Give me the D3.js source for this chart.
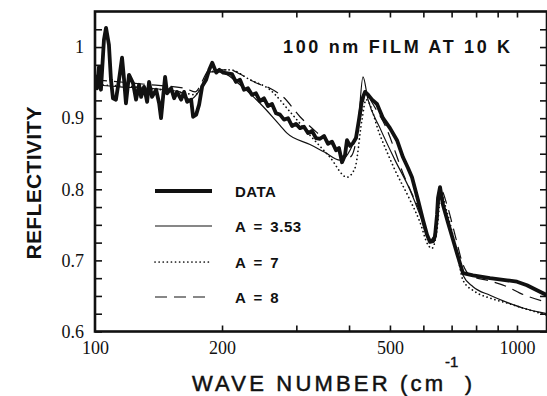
<!DOCTYPE html>
<html>
<head>
<meta charset="utf-8">
<script src="https://d3js.org/d3.v7.min.js"></script>
<style>
    body { margin: 0; background: #fff; }
    svg { display: block; }
    .num text { font-family: "Liberation Serif", "Times New Roman", serif; font-size: 18px; fill: #111; }
    .lbl { font-family: "Liberation Sans", Arial, sans-serif; fill: #111; }
    .curve { fill: none; stroke: #111; stroke-linejoin: round; }
</style>
</head>
<body>
<script>
// wave number (cm-1) / reflectivity pairs
var dataWave = [100,101.1,102.2,103.3,105.0,106.2,107.9,109.1,110.3,112.1,114.0,115.9,117.2,118.4,120.4,123.1,125.1,127.2,128.6,130.7,132.9,134.3,136.5,139.6,141.9,143.4,145.0,146.6,148.2,151.5,154.0,156.5,160.0,162.6,165.3,169.0,170.8,173.7,176.5,179.5,183.4,186.5,189.6,193.8,197.0,201.3,211.2,215.8,220.6,225.5,230.4,235.5,240.7,246.0,251.5,257.0,262.7,268.5,274.4,280.5,286.7,293.0,299.4,306.1,312.8,319.7,326.8,334.0,341.3,348.9,356.6,364.4,372.5,378.6,384.9,391.2,395.5,402.1,408.7,415.4,422.3,429.3,436.4,443.6,453.4,465.9,481.4,500.1,519.6,536.9,551.8,563.9,582.7,598.8,612.1,622.2,632.4,639.4,646.4,649.9,657.1,667.9,686.4,705.4,724.9,744.9,786.7,863.0,946.9,1000,1056,1115,1178];
var dataRefl = [0.961,0.942,0.972,0.940,1.010,1.027,1.003,0.954,0.928,0.926,0.954,0.985,0.954,0.921,0.961,0.949,0.926,0.947,0.930,0.944,0.923,0.951,0.930,0.940,0.921,0.900,0.930,0.958,0.935,0.942,0.928,0.937,0.926,0.937,0.923,0.926,0.902,0.905,0.919,0.945,0.954,0.968,0.978,0.964,0.968,0.964,0.962,0.951,0.954,0.940,0.942,0.933,0.935,0.924,0.928,0.917,0.920,0.907,0.905,0.898,0.900,0.889,0.892,0.886,0.888,0.879,0.882,0.872,0.871,0.875,0.864,0.867,0.855,0.858,0.838,0.848,0.869,0.861,0.865,0.872,0.898,0.926,0.937,0.933,0.926,0.920,0.900,0.886,0.869,0.845,0.830,0.817,0.785,0.757,0.736,0.726,0.727,0.734,0.764,0.788,0.803,0.778,0.753,0.729,0.705,0.682,0.679,0.675,0.672,0.670,0.665,0.658,0.651];

var a353Wave = [100,114.6,135.0,159.1,168.0,177.4,187.3,197.8,220.6,246.0,274.4,285.1,323.2,350.5,380.7,402.1,420.0,431.6,443.6,473.6,514.0,557.8,588.9,615.1,629.0,642.9,657.1,675.2,713.1,744.9,786.7,863.0,946.9,1033,1178];
var a353Refl = [0.947,0.944,0.942,0.937,0.926,0.940,0.965,0.965,0.947,0.921,0.890,0.879,0.863,0.852,0.841,0.855,0.890,0.958,0.926,0.886,0.841,0.799,0.764,0.732,0.729,0.750,0.799,0.771,0.722,0.679,0.663,0.651,0.641,0.633,0.625];

var a7Wave = [100,135.0,163.5,172.6,187.3,208.9,233.0,259.8,289.8,323.2,360.5,395.5,413.2,429.3,438.8,473.6,514.0,557.8,588.9,615.1,629.0,646.4,660.7,682.6,724.9,744.9,795.1,863.0,946.9,1045,1178];
var a7Refl = [0.947,0.942,0.935,0.933,0.965,0.968,0.954,0.940,0.909,0.876,0.845,0.817,0.830,0.898,0.926,0.876,0.827,0.785,0.754,0.722,0.717,0.743,0.792,0.768,0.703,0.672,0.656,0.647,0.640,0.632,0.623];

var a8Wave = [100,135.0,163.5,172.6,187.3,208.9,220.6,242.1,259.8,279.0,306.1,341.3,380.7,391.2,406.5,429.3,438.8,453.4,486.7,539.9,588.9,622.2,642.9,660.7,682.6,713.1,744.9,773.9,863.0,946.9,1016,1178];
var a8Refl = [0.954,0.947,0.942,0.937,0.968,0.968,0.962,0.949,0.942,0.930,0.902,0.876,0.852,0.841,0.848,0.912,0.937,0.922,0.890,0.819,0.768,0.729,0.740,0.799,0.778,0.736,0.694,0.679,0.671,0.663,0.654,0.641];

var xLabelTicks = [100, 200, 500, 1000];
var xMinorTicks = [200, 300, 400, 500, 600, 700, 800, 900, 1000];
var yLabelTicks = [0.6, 0.7, 0.8, 0.9, 1];
var legendNames = ["DATA", "A = 3.53", "A = 7", "A = 8"];
var titleText = "100 nm FILM AT 10 K";

var width = 547, height = 396;
var plotLeft = 95, plotRight = 547, plotTop = 11.5, plotBottom = 331.5;

var svg = d3.select("body").append("svg")
    .attr("width", width)
    .attr("height", height);

var x = d3.scaleLog().domain([100, 1178]).range([plotLeft, plotRight]);
var y = d3.scaleLinear().domain([0.6, 1.05]).range([plotBottom, plotTop]);

svg.append("clipPath").attr("id", "plot")
    .append("rect")
    .attr("x", plotLeft).attr("y", plotTop)
    .attr("width", plotRight - plotLeft).attr("height", plotBottom - plotTop);

// minor ticks, all pointing inwards
var yMinor = d3.range(0.6, 1.04, 0.025);
svg.append("g").attr("transform", "translate(" + plotLeft + ",0)")
    .call(d3.axisRight(y).tickValues(yMinor).tickSize(7).tickFormat(""));
svg.append("g").attr("transform", "translate(" + plotRight + ",0)")
    .call(d3.axisLeft(y).tickValues(yMinor).tickSize(7).tickFormat(""));
svg.append("g").attr("transform", "translate(0," + plotBottom + ")")
    .call(d3.axisTop(x).tickValues(xMinorTicks).tickSize(6).tickFormat(""));
svg.append("g").attr("transform", "translate(0," + plotTop + ")")
    .call(d3.axisBottom(x).tickValues(xMinorTicks).tickSize(6).tickFormat(""));
svg.selectAll(".domain").remove();
svg.selectAll(".tick line").attr("stroke", "#111").attr("stroke-width", 1.6);

// tick labels
svg.append("g").attr("class", "num")
    .attr("transform", "translate(" + plotLeft + ",0)")
    .call(d3.axisLeft(y).tickValues(yLabelTicks).tickSize(0).tickPadding(11)
        .tickFormat(function (d) { return d === 1 ? "1" : d3.format(".1f")(d); }));
svg.append("g").attr("class", "num")
    .attr("transform", "translate(0," + plotBottom + ")")
    .call(d3.axisBottom(x).tickValues(xLabelTicks).tickSize(0).tickPadding(10)
        .tickFormat(d3.format("d")));
svg.selectAll(".num .domain").remove();

// frame
svg.append("rect")
    .attr("x", plotLeft).attr("y", plotTop)
    .attr("width", plotRight - plotLeft).attr("height", plotBottom - plotTop)
    .attr("fill", "none").attr("stroke", "#111").attr("stroke-width", 2.6);

// curves
var line = d3.line()
    .x(function (d) { return x(d[0]); })
    .y(function (d) { return y(d[1]); });
var smooth = d3.line()
    .x(function (d) { return x(d[0]); })
    .y(function (d) { return y(d[1]); })
    .curve(d3.curveMonotoneX);

var curves = svg.append("g").attr("clip-path", "url(#plot)");

curves.append("path").attr("class", "curve")
    .attr("d", smooth(d3.zip(a8Wave, a8Refl)))
    .attr("stroke-width", 1.2).attr("stroke-dasharray", "12,7");
curves.append("path").attr("class", "curve")
    .attr("d", smooth(d3.zip(a7Wave, a7Refl)))
    .attr("stroke-width", 1.7).attr("stroke-dasharray", "0.1,4")
    .attr("stroke-linecap", "round");
curves.append("path").attr("class", "curve")
    .attr("d", smooth(d3.zip(a353Wave, a353Refl)))
    .attr("stroke-width", 1.2);
curves.append("path").attr("class", "curve")
    .attr("d", line(d3.zip(dataWave, dataRefl)))
    .attr("stroke-width", 3.8);

// legend
var legendRows = [191, 226, 262, 297];
var legendStyles = [
    { w: 3.8, dash: null, cap: "butt" },
    { w: 1.2, dash: null, cap: "butt" },
    { w: 1.7, dash: "0.1,4", cap: "round" },
    { w: 1.2, dash: "12,7", cap: "butt" }
];
legendNames.forEach(function (name, i) {
    svg.append("line")
        .attr("x1", 155).attr("x2", 212)
        .attr("y1", legendRows[i]).attr("y2", legendRows[i])
        .attr("stroke", "#111")
        .attr("stroke-width", legendStyles[i].w)
        .attr("stroke-dasharray", legendStyles[i].dash)
        .attr("stroke-linecap", legendStyles[i].cap);
    svg.append("text").attr("class", "lbl")
        .attr("x", 235).attr("y", legendRows[i] + 5.5)
        .attr("font-size", 15).attr("font-weight", "bold")
        .style("word-spacing", "3px").style("letter-spacing", "0.5px")
        .text(name);
});

// title
svg.append("text").attr("class", "lbl")
    .attr("x", 283).attr("y", 53)
    .attr("font-size", 18).attr("font-weight", "bold")
    .attr("textLength", 227).attr("lengthAdjust", "spacing")
    .text(titleText);

// axis titles
svg.append("text").attr("class", "lbl")
    .attr("transform", "translate(41,183) rotate(-90)")
    .attr("text-anchor", "middle")
    .attr("font-size", 21).attr("font-weight", "bold")
    .attr("textLength", 153).attr("lengthAdjust", "spacing")
    .text("REFLECTIVITY");

svg.append("text").attr("class", "lbl")
    .attr("x", 192).attr("y", 391)
    .attr("font-size", 22)
    .attr("stroke", "#111").attr("stroke-width", 0.5)
    .attr("textLength", 251).attr("lengthAdjust", "spacing")
    .text("WAVE NUMBER (cm");
svg.append("text").attr("class", "lbl")
    .attr("x", 445).attr("y", 367)
    .attr("font-size", 15)
    .attr("stroke", "#111").attr("stroke-width", 0.4)
    .text("-1");
svg.append("text").attr("class", "lbl")
    .attr("x", 465).attr("y", 391)
    .attr("font-size", 21)
    .attr("stroke", "#111").attr("stroke-width", 0.5)
    .text(")");
</script>
</body>
</html>
